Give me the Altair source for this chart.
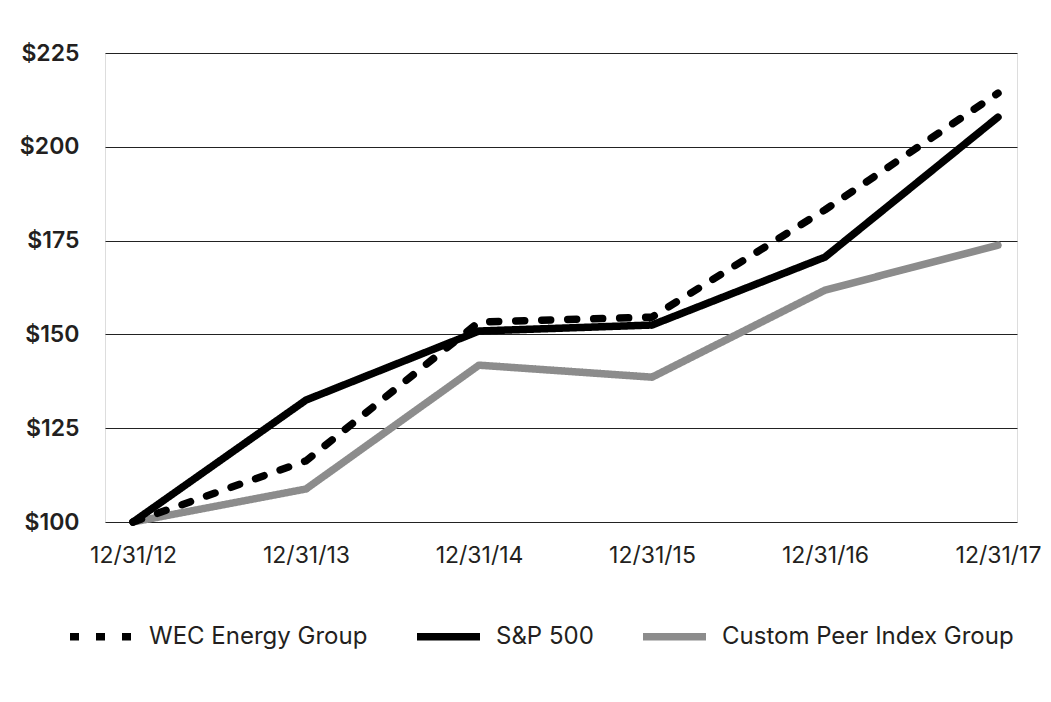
import json
import altair as alt
import pandas as pd

dates = ["12/31/12", "12/31/13", "12/31/14", "12/31/15", "12/31/16", "12/31/17"]
series_names = ["WEC Energy Group", "S&P 500", "Custom Peer Index Group"]
wec = [100, 116.3, 153.3, 154.6, 183.2, 214.3]
sp500 = [100, 132.5, 150.9, 152.5, 170.6, 207.9]
peer = [100, 108.8, 141.8, 138.6, 161.8, 173.8]
y_ticks = [100, 125, 150, 175, 200, 225]

rows = []
# drawing order: grey first, then dashed, then solid black on top
for name, vals in [(series_names[2], peer), (series_names[0], wec), (series_names[1], sp500)]:
    for i, v in enumerate(vals):
        rows.append({"idx": i, "date": dates[i], "series": name, "value": v})
df = pd.DataFrame(rows)

label_expr = json.dumps(dates) + "[datum.value]"
FONT = "Inter"
TEXT = "#231f20"


def make_legend():
    return alt.Legend(
        title=None, orient="none", legendX=-39, legendY=548, direction="horizontal",
        symbolType="stroke", symbolSize=3969, symbolStrokeWidth=7.5,
        labelFontSize=24, labelFont=FONT, labelColor=TEXT, labelOffset=12,
        columnPadding=34, labelLimit=400,
    )


chart = alt.Chart(df).mark_line(
    strokeWidth=7.5, strokeCap="round", strokeJoin="round"
).encode(
    x=alt.X(
        "idx:Q",
        scale=alt.Scale(domain=[-0.162, 5.11], nice=False, zero=False),
        axis=alt.Axis(
            values=list(range(len(dates))), labelExpr=label_expr, title=None,
            grid=False, domain=False, ticks=False, labelPadding=22,
            labelFontSize=23, labelFont=FONT, labelColor=TEXT, labelFlush=False,
        ),
    ),
    y=alt.Y(
        "value:Q",
        scale=alt.Scale(domain=[100, 225], nice=False, zero=False),
        axis=alt.Axis(
            values=y_ticks, labelExpr="'$' + datum.value", title=None,
            grid=True, gridColor="#222222", gridWidth=1, domain=False, ticks=False,
            labelPadding=26, labelFontSize=23, labelFont=FONT, labelFontWeight=600,
            labelColor=TEXT,
        ),
    ),
    color=alt.Color(
        "series:N",
        scale=alt.Scale(domain=series_names, range=["#000000", "#000000", "#8c8c8c"]),
        legend=make_legend(),
    ),
    strokeDash=alt.StrokeDash(
        "series:N",
        scale=alt.Scale(domain=series_names, range=[[9, 17], [1, 0], [1, 0]]),
        legend=make_legend(),
    ),
    detail="series:N",
).properties(
    width=912, height=469,
    autosize=alt.AutoSizeParams(type="none"),
    padding={"left": 97, "top": 45, "right": 24, "bottom": 170},
).configure_view(strokeWidth=0).configure(background="white")

chart.save("out.html", embed_options={"renderer": "svg", "actions": False})
